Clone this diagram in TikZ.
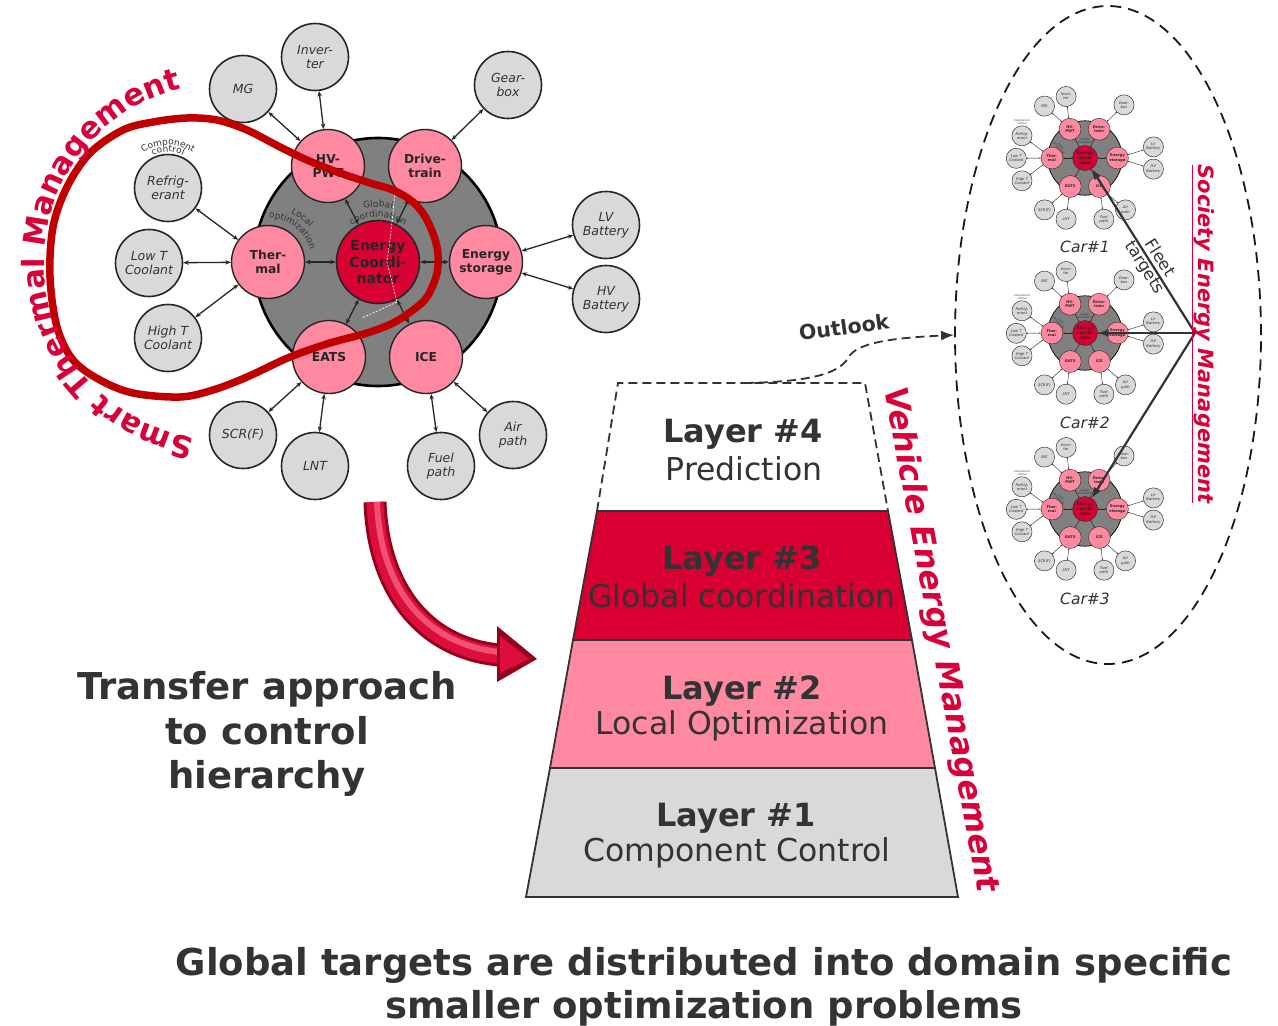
\documentclass[tikz,border=0pt]{standalone}
\usepackage{fontspec}
\setmainfont{DejaVu Sans}
\usetikzlibrary{arrows.meta,shapes.geometric,decorations.text}
\definecolor{cpink}{RGB}{255,137,160}
\definecolor{ccrim}{RGB}{217,0,52}
\definecolor{cbg}{RGB}{128,128,128}
\definecolor{cgr}{RGB}{217,217,217}
\definecolor{cdk}{RGB}{51,51,51}
\definecolor{cloop}{RGB}{192,0,0}
\definecolor{cred}{RGB}{217,0,58}
\definecolor{clay}{RGB}{216,0,50}
\definecolor{arA}{RGB}{150,0,30}
\definecolor{arB}{RGB}{220,14,60}
\definecolor{arC}{RGB}{240,80,115}
\newcommand\myfs[2]{\fontsize{#1}{#2}\selectfont}
\newcommand\stmfont{\fontsize{30.5}{34}\selectfont\bfseries\color{cred}}
\newcommand\smfont{\fontsize{9}{10}\selectfont\color{cdk}}
\tikzset{
 x=1pt, y=-1pt,
 outc/.style={circle, draw=black!85, line width=1.6, fill=cgr, minimum size=67, inner sep=0, align=center, text=cdk, font=\itshape\myfs{12.5}{14}},
 pkc/.style={circle, draw=black!85, line width=1.4, fill=cpink, minimum size=73, inner sep=0, align=center, text=black!85, font=\bfseries\myfs{12.3}{14}},
 ecc/.style={circle, draw=black!85, line width=1.6, fill=ccrim, minimum size=83, inner sep=0, align=center, text=black!85, font=\bfseries\myfs{14}{16.5}},
 bgc/.style={circle, draw=black, line width=2.6, fill=cbg, minimum size=248, inner sep=0},
 con/.style={{Stealth[length=0pt 4.2,width=0pt 3.4]}-{Stealth[length=0pt 4.2,width=0pt 3.4]}, line width=1.3, draw=black!85},
 mini/.style={outc/.append style={line width=0.45}, pkc/.append style={line width=0.4}, ecc/.append style={line width=0.45}, bgc/.append style={line width=0.7}, con/.append style={line width=0.4}},
 dsh/.style={dash pattern=on 9pt off 5pt, line width=1.8, draw=cdk},
 layer/.style={draw=cdk, line width=1.8},
 ltitle/.style={font=\bfseries\myfs{32}{38}, text=cdk},
 lsub/.style={font=\myfs{31.5}{37}, text=cdk},
 carlab/.style={font=\itshape\myfs{15.5}{18}, text=cdk},
 fleet/.style={-{Latex[length=11,width=8]}, line width=2.2, draw=cdk},
 arctext/.style={decorate, decoration={text along path, text align=center, text={#1}}},
 vehicle/.pic={
  \node[bgc] (-bg) at (0,0) {};
  \node[ecc] (-ec) at (0,0) {Energy\\Coordi-\\nator};
  \node[pkc] (-hv) at (-50,-96) {HV-\\PWT};
  \node[pkc] (-dt) at (47,-96) {Drive-\\train};
  \node[pkc] (-th) at (-110,0) {Ther-\\mal};
  \node[pkc] (-es) at (108,0) {Energy\\storage};
  \node[pkc] (-ea) at (-49,95) {EATS};
  \node[pkc] (-ic) at (48,95) {ICE};
  \node[outc] (-mg) at (-135,-173) {MG};
  \node[outc] (-inv) at (-63,-205) {Inver-\\ter};
  \node[outc] (-gb) at (130,-177) {Gear-\\box};
  \node[outc] (-rf) at (-210,-74) {Refrig-\\erant};
  \node[outc] (-lt) at (-229,1) {Low T\\Coolant};
  \node[outc] (-ht) at (-210,76) {High T\\Coolant};
  \node[outc] (-lv) at (228,-37) {LV\\Battery};
  \node[outc] (-hb) at (228,37) {HV\\Battery};
  \node[outc] (-scr) at (-135,173) {SCR(F)};
  \node[outc] (-lnt) at (-63,204) {LNT};
  \node[outc] (-fp) at (63,204) {Fuel\\path};
  \node[outc] (-ap) at (135,173) {Air\\path};
  \foreach \a/\b in {mg/hv, inv/hv, gb/dt, rf/th, lt/th, ht/th, lv/es, hb/es, scr/ea, lnt/ea, fp/ic, ap/ic, ec/hv, ec/dt, ec/th, ec/es, ec/ea, ec/ic}
   \draw[con] (-\a) -- (-\b);
 },
 vlab/.pic={
  \node[font=\myfs{9}{9}, text=cdk, align=center] (-cc) at (-210,-121) {Component\\control};
  \node[font=\myfs{9}{10}, text=cdk, align=center, rotate=-48] (-lo) at (-84,-36) {Local\\optimization};
  \node[font=\myfs{9}{10}, text=cdk, align=center] (-gc) at (0,-56) {Global\\coordination};
 }
}
\begin{document}
\begin{tikzpicture}
\fill[white] (0,0) rectangle (1278,1026);
\useasboundingbox (0,0) rectangle (1278,1026);

% ---- main vehicle diagram
\pic (m) at (378,262) {vehicle};
\draw[white, line width=0.7, dash pattern=on 2pt off 1.5pt] (340,178) -- (395,193) -- (391,232) -- (387,262) -- (397,302) -- (362,318);
\path[arctext={|\smfont|Component}] plot[domain=0:1, samples=41] ({168+43*cos(150-120*\x)}, {188-43*sin(150-120*\x)});
\path[arctext={|\smfont|control}] plot[domain=0:1, samples=41] ({168+36*cos(140-100*\x)}, {188-36*sin(140-100*\x)});
\path[arctext={|\smfont|Local}] plot[domain=0:1, samples=41] ({268+54*cos(85-65*\x)}, {262-54*sin(85-65*\x)});
\path[arctext={|\smfont|optimization}] plot[domain=0:1, samples=41] ({268+44*cos(105-105*\x)}, {262-44*sin(105-105*\x)});
\path[arctext={|\smfont|Global}] plot[domain=0:1, samples=41] ({378+55*cos(125-70*\x)}, {262-55*sin(125-70*\x)});
\path[arctext={|\smfont|coordination}] plot[domain=0:1, samples=41] ({378+45*cos(150-120*\x)}, {262-45*sin(150-120*\x)});

% red loop
\draw[cloop, line width=7.5] plot[smooth cycle, tension=0.55] coordinates {(50,277) (53,227) (67,187) (90,153) (123,130) (153,122) (187,118) (217,120) (247,130) (280,147) (307,160) (337,172) (370,183) (393,190) (413,202) (427,220) (437,247) (437,273) (427,297) (413,310) (393,323) (367,333) (330,343) (290,357) (247,377) (213,390) (180,397) (133,393) (100,380) (73,360) (57,327)};
\path[arctext={|\stmfont|Smart Thermal Management}] plot[domain=0:1, samples=141] ({222+178*cos(265-166*\x)}, {262-178*sin(265-166*\x)});

% ---- big red curved arrow
\draw[arA, line width=23] (375,502) .. controls (378,590) and (425,648) .. (499,655);
\draw[arB, line width=17] (375,502) .. controls (378,590) and (425,648) .. (499,655);
\draw[arC, line width=6] (377,502) .. controls (380,588) and (425,644) .. (499,652);
\fill[arA] (497,626) -- (537,659) -- (497,682) -- cycle;
\fill[arB] (500,636) -- (529,659) -- (500,673) -- cycle;

\node[font=\bfseries\myfs{37}{44.5}, text=cdk, align=center] (tr) at (267,734) {Transfer approach\\to control\\hierarchy};

% ---- pyramid
\filldraw[layer, fill=clay] (597,511) -- (888,511) -- (912,640) -- (573,640) -- cycle;
\filldraw[layer, fill=cpink] (573,640) -- (912,640) -- (935,768) -- (550,768) -- cycle;
\filldraw[layer, fill=cgr] (550,768) -- (935,768) -- (958,897) -- (526,897) -- cycle;
\draw[dsh] (597,511) -- (618,383) -- (865,383) -- (888,511);
\node[ltitle] (l4) at (743,434) {Layer \#4};
\node[lsub] (l4s) at (744,469) {Prediction};
\node[ltitle] (l3) at (742,561) {Layer \#3};
\node[lsub] (l3s) at (742,596) {Global coordination};
\node[ltitle] (l2) at (742,691) {Layer \#2};
\node[lsub] (l2s) at (742,726) {Local Optimization};
\node[ltitle] (l1) at (736,818) {Layer \#1};
\node[lsub] (l1s) at (737,853) {Component Control};
\node[rotate=-79.5, font=\bfseries\itshape\myfs{32}{38}, text=cred] (vem) at (940,640) {Vehicle Energy Management};

% ---- society ellipse
\node[ellipse, draw=black!90, line width=1.8, dash pattern=on 11pt off 7pt, minimum width=306, minimum height=658, inner sep=0] (soc) at (1108,335) {};
\coordinate (ol) at (745,383);
\draw[dsh, -{Latex[length=13,width=10]}] (ol) .. controls (800,382) and (838,376) .. (848,358) .. controls (856,343) and (890,338) .. (soc.west);
\node[rotate=8, font=\bfseries\myfs{20.5}{24}, text=cdk] (olk) at (844,327) {Outlook};

\begin{scope}[shift={(1085,158)}, scale=0.3, transform shape, mini]
 \pic (car1) at (0,0) {vehicle};
 \pic (car1l) at (0,0) {vlab};
\end{scope}
\begin{scope}[shift={(1085,333)}, scale=0.3, transform shape, mini]
 \pic (car2) at (0,0) {vehicle};
 \pic (car2l) at (0,0) {vlab};
\end{scope}
\begin{scope}[shift={(1085,509)}, scale=0.3, transform shape, mini]
 \pic (car3) at (0,0) {vehicle};
 \pic (car3l) at (0,0) {vlab};
\end{scope}
\node[carlab] (c1) at (1085,247) {Car\#1};
\node[carlab] (c2) at (1085,423) {Car\#2};
\node[carlab] (c3) at (1085,599) {Car\#3};

\coordinate (hub) at (1195,333);
\draw[fleet] (hub) -- (car1-ec);
\draw[fleet] (hub) -- (car2-ec);
\draw[fleet] (hub) -- (car3-ec);
\node[rotate=-58, align=center, font=\myfs{16.5}{18}, text=cdk] (ft) at (1152,263) {Fleet\\targets};
\node[rotate=-90, font=\bfseries\itshape\myfs{21}{25}, text=cred] (sem) at (1203,334) {\underline{Society Energy Management}};

% ---- bottom text
\node[font=\bfseries\myfs{37}{43}, text=cdk, align=center] (gt) at (704,987) {Global targets are distributed into domain specific\\smaller optimization problems};
\end{tikzpicture}
\end{document}
